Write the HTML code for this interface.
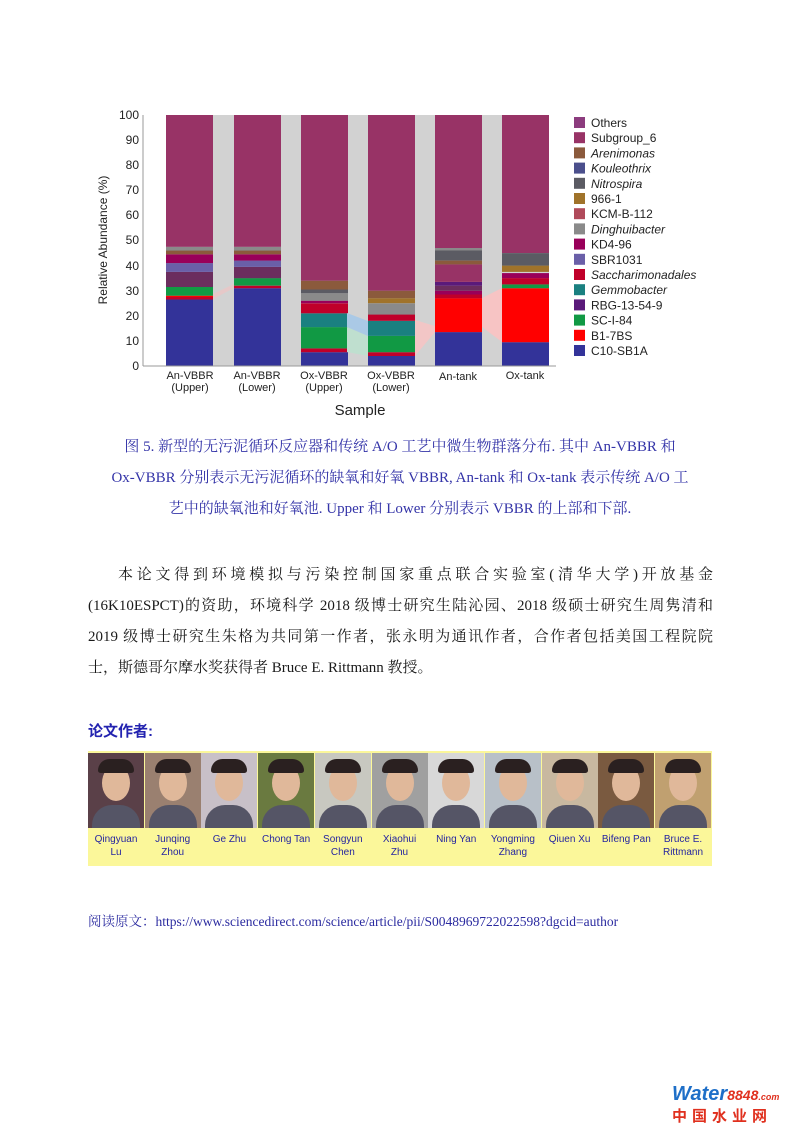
<!DOCTYPE html>
<html><head><meta charset="utf-8"><style>
body{margin:0;background:#fff;width:800px;height:1131px;position:relative;overflow:hidden;font-family:"Liberation Serif","Noto Serif CJK SC",serif}
.cap{position:absolute;left:80px;width:640px;text-align:center;color:#3434a8;font-size:15px;line-height:31px;top:432px}
.body{position:absolute;left:88px;width:625px;font-size:15px;line-height:31px;color:#1a1a1a;top:560px}
.body div{text-align:justify;text-align-last:justify;height:31px;white-space:nowrap}
.body div.last{text-align-last:left}
.ttl{position:absolute;left:88px;top:720px;color:#2323b0;font-weight:bold;font-size:15px;font-family:"Liberation Sans","Noto Sans CJK SC",sans-serif}
.bar{position:absolute;left:88px;top:751px;width:624px;height:115px;background:#fbf79a}
.ph{position:absolute;top:2px;height:75px;width:56px;overflow:hidden}
.nm{position:absolute;top:82px;width:56px;text-align:center;font:10px/13px "Liberation Sans",sans-serif;color:#2525a0}
.link{position:absolute;left:88px;top:910px;font-size:13.5px;color:#2b2ba0}
</style></head><body>
<svg width="800" height="430" style="position:absolute;left:0;top:0" font-family="Liberation Sans, sans-serif">
<rect x="166" y="115" width="383" height="251" fill="#d2d2d2"/>
<g id="bars"></g>
<polygon points="482,327 502,342 502,288 482,298" fill="#f7c4c4"/>
<polygon points="213,299 234,288 234,284 213,294" fill="#e6c8c8"/>
<polygon points="347,352 368,356 368,336 347,327" fill="#bfdfcf"/>
<polygon points="347,327 368,336 368,321 347,313" fill="#aac9e6"/>
<polygon points="415,356 435,332 435,326 415,320" fill="#f2c6c6"/>
<line x1="143" y1="115" x2="143" y2="366" stroke="#999"/>
<line x1="143" y1="366" x2="556" y2="366" stroke="#999"/>
<g font-size="12" fill="#222" text-anchor="end">
<text x="139" y="370">0</text><text x="139" y="345">10</text><text x="139" y="320">20</text><text x="139" y="295">30</text><text x="139" y="270">40</text><text x="139" y="244">50</text><text x="139" y="219">60</text><text x="139" y="194">70</text><text x="139" y="169">80</text><text x="139" y="144">90</text><text x="139" y="119">100</text>
</g>
<text transform="translate(107,240) rotate(-90)" font-size="12" text-anchor="middle" fill="#222">Relative Abundance (%)</text>
<g font-size="11" fill="#222" text-anchor="middle">
<text x="190" y="379">An-VBBR</text><text x="190" y="391">(Upper)</text>
<text x="257" y="379">An-VBBR</text><text x="257" y="391">(Lower)</text>
<text x="324" y="379">Ox-VBBR</text><text x="324" y="391">(Upper)</text>
<text x="391" y="379">Ox-VBBR</text><text x="391" y="391">(Lower)</text>
<text x="458" y="380">An-tank</text>
<text x="525" y="379">Ox-tank</text>
</g>
<text x="360" y="415" font-size="15" text-anchor="middle" fill="#222">Sample</text>
<g id="leg" font-size="12" fill="#222"></g>
</svg>
<div class="cap">图 5. 新型的无污泥循环反应器和传统 A/O 工艺中微生物群落分布. 其中 An-VBBR 和<br>Ox-VBBR 分别表示无污泥循环的缺氧和好氧 VBBR, An-tank 和 Ox-tank 表示传统 A/O 工<br>艺中的缺氧池和好氧池. Upper 和 Lower 分别表示 VBBR 的上部和下部.</div>
<div class="body">
<div style="padding-left:30px">本论文得到环境模拟与污染控制国家重点联合实验室(清华大学)开放基金</div>
<div>(16K10ESPCT)的资助，环境科学 2018 级博士研究生陆沁园、2018 级硕士研究生周隽清和</div>
<div>2019 级博士研究生朱格为共同第一作者，张永明为通讯作者，合作者包括美国工程院院</div>
<div class="last">士，斯德哥尔摩水奖获得者 Bruce E. Rittmann 教授。</div>
</div>
<div class="ttl">论文作者:</div>
<div class="bar" id="au"></div>
<div class="link">阅读原文：https://www.sciencedirect.com/science/article/pii/S0048969722022598?dgcid=author</div>
<div style="position:absolute;left:672px;top:1083px;font:bold italic 20px 'Liberation Sans',sans-serif;color:#1e6fc8">Water<span style="color:#e0301e;font-size:14px">8848</span><span style="font-size:9px;color:#e0301e">.com</span></div>
<div style="position:absolute;left:672px;top:1105px;font:bold 15px 'Liberation Sans','Noto Sans CJK SC',sans-serif;color:#e0301e;letter-spacing:5px">中国水业网</div>
<script>
var C={Others:"#8c3c7e",Sub:"#983366",Aren:"#8b5a3c",Koul:"#4b4f8c",Nitro:"#5b5b63",N966:"#a0732a",KCM:"#b04a5a",Ding:"#8a8a8a",KD4:"#99005a",SBR:"#6a5fa8",Sac:"#c0002a",Gem:"#1a8080",RBG:"#5a1a7a",SC:"#119944",B1:"#ff0000",C10:"#333399",Dk:"#6b2d5e"};
var B=[[166,[["C10",0,26.5],["Sac",26.5,27.5],["B1",27.5,28],["SC",28,31.5],["Dk",31.5,37.5],["SBR",37.5,41],["KD4",41,44.5],["Aren",44.5,46],["Ding",46,47.5],["Sub",47.5,100]]],
[234,[["C10",0,31],["Sac",31,32],["SC",32,35],["Dk",35,39.5],["SBR",39.5,42],["KD4",42,44.5],["Aren",44.5,46],["Ding",46,47.5],["Sub",47.5,100]]],
[301,[["C10",0,5.5],["Sac",5.5,7],["SC",7,15.5],["Gem",15.5,21],["Sac",21,25],["KD4",25,26],["Ding",26,29],["Nitro",29,30.5],["Aren",30.5,34],["Sub",34,100]]],
[368,[["C10",0,4],["Sac",4,5.5],["SC",5.5,12],["Gem",12,18],["Sac",18,20.5],["Ding",20.5,25],["N966",25,27],["Aren",27,30],["Sub",30,100]]],
[435,[["C10",0,13.5],["B1",13.5,27],["Sac",27,28.5],["KD4",28.5,30],["Dk",30,32],["RBG",32,33.5],["Sub",33.5,40.5],["Aren",40.5,42],["Nitro",42,46],["Ding",46,47],["Sub",47,100]]],
[502,[["C10",0,9.5],["B1",9.5,31],["SC",31,32.5],["Sac",32.5,35],["KD4",35,37],["N966",37.5,40],["Nitro",40,45],["Sub",45,100]]]];
var s="";function y(v){return 366-v*2.51}
B.forEach(function(b){b[1].forEach(function(g){s+='<rect x="'+b[0]+'" y="'+y(g[2]).toFixed(1)+'" width="47" height="'+((g[2]-g[1])*2.51).toFixed(1)+'" fill="'+C[g[0]]+'"/>'})});
document.getElementById("bars").outerHTML=s;
var L=[["Others","Others",0],["Subgroup_6","Sub",0],["Arenimonas","Aren",1],["Kouleothrix","Koul",1],["Nitrospira","Nitro",1],["966-1","N966",0],["KCM-B-112","KCM",0],["Dinghuibacter","Ding",1],["KD4-96","KD4",0],["SBR1031","SBR",0],["Saccharimonadales","Sac",1],["Gemmobacter","Gem",1],["RBG-13-54-9","RBG",0],["SC-I-84","SC",0],["B1-7BS","B1",0],["C10-SB1A","C10",0]];
var l="";L.forEach(function(e,i){var yy=117+i*15.2;l+='<rect x="574" y="'+yy+'" width="11" height="11" fill="'+C[e[1]]+'"/><text x="591" y="'+(yy+10)+'"'+(e[2]?' font-style="italic"':'')+'>'+e[0]+'</text>'});
document.getElementById("leg").innerHTML=l;
var N=[["Qingyuan","Lu"],["Junqing","Zhou"],["Ge Zhu",""],["Chong Tan",""],["Songyun","Chen"],["Xiaohui","Zhu"],["Ning Yan",""],["Yongming","Zhang"],["Qiuen Xu",""],["Bifeng Pan",""],["Bruce E.","Rittmann"]];
var bg=["#5a4048","#9a8070","#c8c0c8","#6a7a40","#c8c8c0","#a0a0a0","#d8d8d8","#b8c0c8","#c8b8a0","#7a5a40","#c0a070"];
var a="";N.forEach(function(n,i){var x=i*56.7;a+='<div class="ph" style="left:'+x+'px;background:'+bg[i]+'"><div style="position:absolute;left:14px;top:12px;width:28px;height:36px;border-radius:50%;background:#e0b89a"></div><div style="position:absolute;left:10px;top:6px;width:36px;height:14px;border-radius:18px 18px 4px 4px;background:#2a2020"></div><div style="position:absolute;left:4px;top:52px;width:48px;height:30px;border-radius:20px 20px 0 0;background:#556"></div></div><div class="nm" style="left:'+x+'px">'+n[0]+'<br>'+n[1]+'</div>'});
document.getElementById("au").innerHTML=a;
</script>
</body></html>
